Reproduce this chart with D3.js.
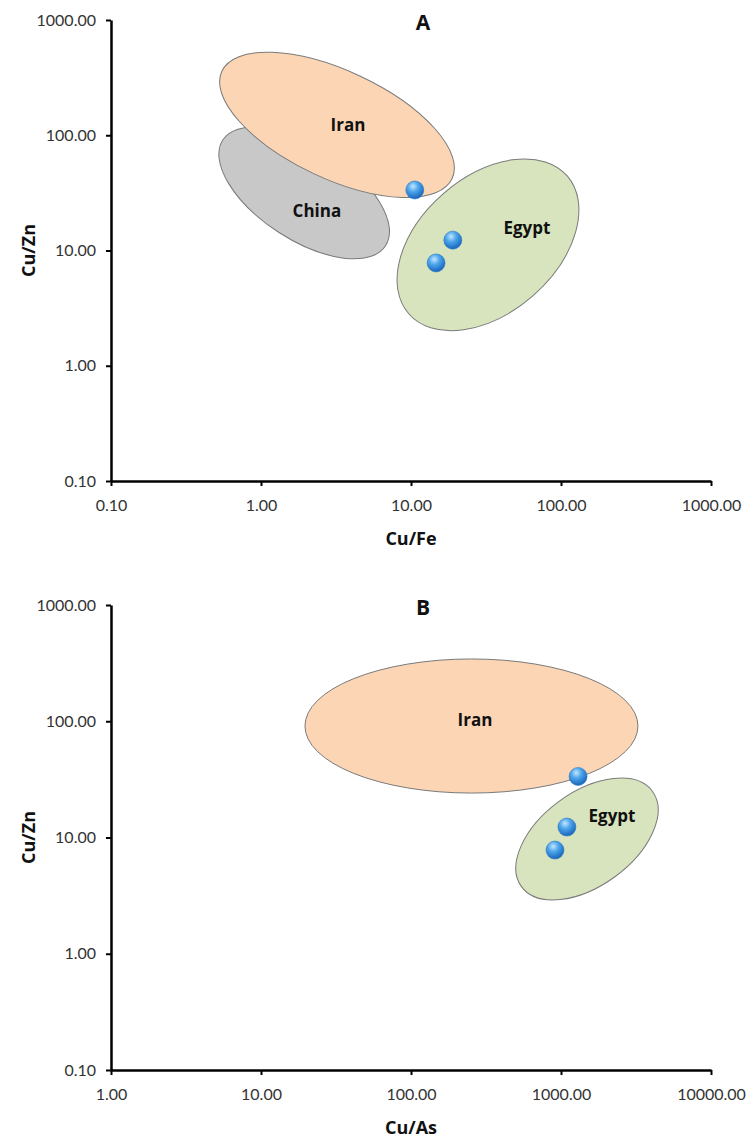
<!DOCTYPE html>
<html>
<head>
<meta charset="utf-8">
<script src="https://cdn.jsdelivr.net/npm/d3@7"></script>
<style>
  body { margin: 0; background: #fff; }
  svg { display: block; }
  .tick text { font-family: Lato, "Open Sans", sans-serif; font-size: 16px; fill: #333; }
  .axisLabel, .regionLabel, .panelTitle { font-family: "Open Sans", Lato, sans-serif; font-weight: bold; fill: #111; }
</style>
</head>
<body>
<div id="chart"></div>
<script>
// samples (same three objects in both panels)
const cuZn = [33.5, 12.3, 7.8];
const cuFe = [10.6, 19.0, 14.7];
const cuAs = [1300, 1095, 912];

const yTicks = [0.1, 1, 10, 100, 1000];
const xTicksA = [0.1, 1, 10, 100, 1000];
const xTicksB = [1, 10, 100, 1000, 10000];

// provenance fields: centre & label in data units, semi-axes in decades, tilt in degrees
const regionsA = [
  { name: "China", cx: 1.94, cy: 31.6, rx: 0.647, ry: 0.313, tilt: 33, lx: 2.36, ly: 22.4 },
  { name: "Iran", cx: 3.21, cy: 123, rx: 0.847, ry: 0.36, tilt: 25, lx: 3.8, ly: 123 },
  { name: "Egypt", cx: 32.6, cy: 11.2, rx: 0.70, ry: 0.453, tilt: -41, lx: 59.3, ly: 15.7 }
];
const regionsB = [
  { name: "Iran", cx: 253, cy: 91, rx: 1.11, ry: 0.447, tilt: 0, lx: 267, ly: 102.6 },
  { name: "Egypt", cx: 1490, cy: 9.7, rx: 0.54, ry: 0.313, tilt: -36, lx: 2188, ly: 15.6 }
];

const fills = { Iran: "#fcd5b5", China: "#c8c8c8", Egypt: "#d7e4bd" };

const svg = d3.select("#chart").append("svg")
  .attr("width", 749)
  .attr("height", 1142);

// shaded sphere for the sample points
const grad = svg.append("defs").append("radialGradient")
  .attr("id", "ball")
  .attr("cx", "40%").attr("cy", "30%").attr("r", "65%");
grad.append("stop").attr("offset", "0%").attr("stop-color", "#c4e6ff");
grad.append("stop").attr("offset", "45%").attr("stop-color", "#4ea6ec");
grad.append("stop").attr("offset", "100%").attr("stop-color", "#1f6cc0");

function panel(opts) {
  const x = d3.scaleLog().domain(opts.xDomain).range([111, 711]);
  const y = d3.scaleLog().domain([0.1, 1000]).range([opts.bottom, opts.top]);
  const decade = x(opts.xDomain[0] * 10) - x(opts.xDomain[0]);
  const g = svg.append("g");

  g.append("text")
    .attr("class", "panelTitle")
    .attr("x", 423).attr("y", opts.top + 2)
    .attr("text-anchor", "middle").attr("dominant-baseline", "central")
    .style("font-size", "21px")
    .text(opts.title);

  // regions
  g.selectAll(".region")
    .data(opts.regions)
    .enter().append("ellipse")
      .attr("class", "region")
      .attr("cx", 0).attr("cy", 0)
      .attr("rx", d => d.rx * decade)
      .attr("ry", d => d.ry * decade)
      .attr("transform", d => `translate(${x(d.cx)},${y(d.cy)}) rotate(${d.tilt})`)
      .attr("fill", d => fills[d.name])
      .attr("stroke", "#7a7a7a")
      .attr("stroke-width", 1);

  g.selectAll(".regionLabel")
    .data(opts.regions)
    .enter().append("text")
      .attr("class", "regionLabel")
      .attr("x", d => x(d.lx))
      .attr("y", d => y(d.ly))
      .attr("text-anchor", "middle")
      .attr("dominant-baseline", "central")
      .style("font-size", "17px")
      .text(d => d.name);

  // axes
  const yAxis = g.append("g")
    .attr("transform", "translate(111,0)")
    .call(d3.axisLeft(y).tickValues(yTicks).tickFormat(d3.format(".2f")).tickSize(5).tickSizeOuter(0).tickPadding(10));
  const xAxis = g.append("g")
    .attr("transform", `translate(0,${opts.bottom})`)
    .call(d3.axisBottom(x).tickValues(opts.xTicks).tickFormat(d3.format(".2f")).tickSize(5).tickSizeOuter(0).tickPadding(14));
  [yAxis, xAxis].forEach(a => {
    a.select(".domain").attr("stroke", "#000").attr("stroke-width", 2.5);
    a.selectAll(".tick line").attr("stroke", "#000").attr("stroke-width", 2);
  });

  g.append("text")
    .attr("class", "axisLabel")
    .attr("transform", `translate(28,${(opts.top + opts.bottom) / 2}) rotate(-90)`)
    .attr("text-anchor", "middle").attr("dominant-baseline", "central")
    .style("font-size", "18px")
    .text("Cu/Zn");
  g.append("text")
    .attr("class", "axisLabel")
    .attr("x", 411).attr("y", opts.bottom + 57)
    .attr("text-anchor", "middle").attr("dominant-baseline", "central")
    .style("font-size", "18px")
    .text(opts.xLabel);

  // sample points
  g.selectAll(".pt")
    .data(opts.xs.map((v, i) => [v, cuZn[i]]))
    .enter().append("circle")
      .attr("class", "pt")
      .attr("cx", d => x(d[0]))
      .attr("cy", d => y(d[1]))
      .attr("r", 9)
      .attr("fill", "url(#ball)")
      .attr("stroke", "#2a78c8")
      .attr("stroke-width", 0.6);
}

panel({ title: "A", top: 20, bottom: 481, xDomain: [0.1, 1000], xTicks: xTicksA,
        xLabel: "Cu/Fe", xs: cuFe, regions: regionsA });
panel({ title: "B", top: 605, bottom: 1070, xDomain: [1, 10000], xTicks: xTicksB,
        xLabel: "Cu/As", xs: cuAs, regions: regionsB });
</script>
</body>
</html>
